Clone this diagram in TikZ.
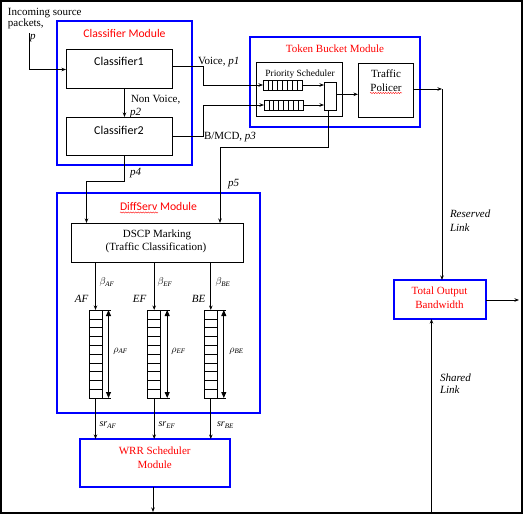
\documentclass[tikz,border=0pt]{standalone}
\usepackage{fontspec}
\setmainfont{Liberation Serif}
\newfontfamily\calfont{Carlito}
\usetikzlibrary{arrows.meta,calc,decorations.pathmorphing}
\definecolor{modblue}{RGB}{0,0,255}
\definecolor{modred}{RGB}{255,0,0}
\begin{document}
\begin{tikzpicture}[x=1pt,y=-1pt,
  every node/.style={inner sep=0pt, outer sep=0pt},
  tx/.style={font=\fontsize{11}{13}\selectfont},
  itx/.style={font=\fontsize{11}{13}\selectfont\itshape},
  ctx/.style={font=\calfont\fontsize{12}{14}\selectfont},
  mtx/.style={font=\calfont\fontsize{11.7}{14}\selectfont, text=modred},
  rtx/.style={font=\fontsize{11}{13}\selectfont, text=modred},
  stx/.style={font=\fontsize{9.5}{11}\selectfont},
  gtx/.style={font=\fontsize{10}{12}\selectfont},
  mod/.style={draw=modblue, line width=2.6pt},
  bx/.style={draw=black, line width=0.8pt},
  ln/.style={line width=0.8pt},
  arr/.style={line width=0.8pt, -{Stealth[length=4.5pt,width=3.5pt]}},
  dbl/.style={line width=0.8pt, {Triangle[length=6pt,width=5pt]}-{Triangle[length=6pt,width=5pt]}},
  squig/.style={draw=modred, line width=0.4pt, decorate, decoration={snake, amplitude=0.6pt, segment length=2.5pt}}
]
\useasboundingbox (0,0) rectangle (525,514);
\draw[line width=2pt] (1,1.2) rectangle (521.5,512.5);

% ---------- input ----------
\node[tx, anchor=base west] (in1) at (8,15.5) {Incoming source};
\node[tx, anchor=base west] (in2) at (8,27) {packets,};
\node[itx, anchor=base west] (inp) at (30,39.5) {p};
\coordinate (src) at (29.5,33);

% ---------- Classifier module ----------
\node[mod, minimum width=135pt, minimum height=144pt] (cm) at (124.5,93) {};
\node[mtx] (cmt) at (124.5,33.5) {Classifier Module};
\node[bx, minimum width=106pt, minimum height=39pt] (c1) at (119,68.5) {};
\node[ctx] (c1t) at (119,61.5) {Classifier1};
\node[bx, minimum width=106pt, minimum height=38pt] (c2) at (119,136) {};
\node[ctx] (c2t) at (119,130) {Classifier2};

\draw[arr] (src) |- (c1.west |- 0,69.5);
\draw[arr] ($(c1.south)+(5.5,0)$) -- ($(c2.north)+(5.5,0)$);
\node[tx, anchor=base west] (nv) at (131,102.5) {Non Voice,};
\node[itx, anchor=base west] (p2) at (130,115.5) {p2};

% ---------- Token bucket module ----------
\node[mod, minimum width=170pt, minimum height=90pt] (tb) at (335,82) {};
\node[rtx] (tbt) at (335,49) {Token Bucket Module};
\node[bx, minimum width=86pt, minimum height=54pt] (ps) at (299,89) {};
\node[stx, anchor=base] (pst) at (300,76) {Priority Scheduler};
\node[bx, minimum width=39pt, minimum height=10pt] (q1) at (282.5,85.5) {};
\node[bx, minimum width=39pt, minimum height=10pt] (q2) at (283.5,105) {};
\foreach \q in {q1,q2}{
  \foreach \i in {1,...,7}{
    \draw[line width=0.6pt] ($(\q.north west)!\i/8!(\q.north east)$) -- ($(\q.south west)!\i/8!(\q.south east)$);
  }
}
\node[bx, minimum width=12pt, minimum height=28pt] (mux) at (330,96) {};
\node[bx, minimum width=55pt, minimum height=54pt] (tp) at (385.5,90) {};
\node[tx] (tpt1) at (386,73.5) {Traffic};
\node[tx] (tpt2) at (386,87.5) {Policer};
\draw[squig] (370,93) -- (402,93);

% voice / B-MCD paths
\draw[arr] (c1.east |- 0,66) -- (203,66) -- (203,85) -- (q1.west |- 0,85);
\node[tx, anchor=base west] (vl) at (198,64.5) {Voice, \textit{p1}};
\draw[arr] (c2.east |- 0,136) -- (203,136) -- (203,105) -- (q2.west);
\node[tx, anchor=base west] (bl) at (204,139.5) {B/MCD, \textit{p3}};
\draw[arr] (q1.east |- 0,85) -- (mux.west |- 0,85);
\draw[arr] (q2.east) -- (mux.west |- q2.east);
\draw[arr] (mux.east |- 0,94.3) -- (tp.west |- 0,94.3);

% ---------- DiffServ module ----------
\node[mod, minimum width=203pt, minimum height=220pt] (ds) at (158.5,303) {};
\node[mtx] (dst) at (158.5,206.5) {DiffServ Module};
\draw[squig] (120,212.5) -- (158,212.5);
\node[bx, minimum width=172pt, minimum height=39pt] (dscp) at (157,242.5) {};
\node[tx, anchor=base] (dscp1) at (157,237) {DSCP Marking};
\node[tx, anchor=base] (dscp2) at (156,250.5) {(Traffic Classification)};

% p4 and p5
\draw[arr] (c2.south -| 124.5,0) -- (124.5,181.5) -- (86.5,181.5) -- (dscp.north -| 86.5,0);
\node[itx, anchor=base west] (p4) at (130,175.5) {p4};
\draw[arr] (mux.south -| 328.5,0) -- (328.5,147) -- (220,147) -- (dscp.north -| 220,0);
\node[itx, anchor=base west] (p5) at (228,186) {p5};

% queues
\foreach \n/\x/\lab/\sub/\lx/\bx/\rx/\sx in {
  AF/95.5/AF/AF/81.5/107/120.5/108,
  EF/154.2/EF/EF/139.5/165/178.5/167,
  BE/210.8/BE/BE/198.5/223/236.5/225.5}{
  \node[bx, minimum width=13pt, minimum height=88pt] (q\n) at (\x,354) {};
  \foreach \i in {1,...,9}{
    \draw[line width=0.6pt] ($(q\n.north west)!\i/10!(q\n.south west)$) -- ($(q\n.north east)!\i/10!(q\n.south east)$);
  }
  \draw[ln] (q\n.north east) -- ++(9,0);
  \draw[ln] (q\n.south east) -- ++(9,0);
  \draw[dbl] ($(q\n.north east)+(6.5,0)$) -- ($(q\n.south east)+(6.5,0)$);
  \draw[arr] (dscp.south -| q\n.north) -- (q\n.north);
  \node[itx] (l\n) at (\lx,299) {\lab};
  \node[gtx] (b\n) at (\bx,282) {$\beta_{\mathit{\sub}}$};
  \node[gtx] (r\n) at (\rx,351) {$\rho_{\mathit{\sub}}$};
  \node[gtx] (s\n) at (\sx,425) {$\mathit{sr}_{\mathit{\sub}}$};
}

% ---------- WRR ----------
\node[mod, minimum width=150pt, minimum height=48pt] (wrr) at (155,463) {};
\node[rtx] (wrr1) at (154.7,450.5) {WRR Scheduler};
\node[rtx] (wrr2) at (154.7,464.5) {Module};
\foreach \n in {AF,EF,BE}{
  \draw[arr] (q\n.south) -- (wrr.north -| q\n.south);
}
\coordinate (wout) at (153,512);
\draw[arr] (wrr.south -| wout) -- (wout);

% ---------- Total output ----------
\node[mod, minimum width=92pt, minimum height=39pt] (tob) at (440,299.5) {};
\node[rtx, anchor=base] (tob1) at (439.5,294.5) {Total Output};
\node[rtx] (tob2) at (439.5,305) {Bandwidth};
\coordinate (rc) at (442,89);
\draw[arr] (tp.east |- rc) -- (rc);
\draw[arr] (rc) -- (tob.north -| rc);
\node[itx, anchor=base west] (res1) at (450,217) {Reserved};
\node[itx, anchor=west] (res2) at (450,227.5) {Link};
\coordinate (oend) at (519,300);
\draw[arr] (tob.east |- oend) -- (oend);
\coordinate (sh) at (431.5,512);
\draw[arr] (sh) -- (tob.south -| sh);
\node[itx, anchor=west] (sh1) at (440,377.5) {Shared};
\node[itx, anchor=west] (sh2) at (440,390) {Link};
\end{tikzpicture}
\end{document}
